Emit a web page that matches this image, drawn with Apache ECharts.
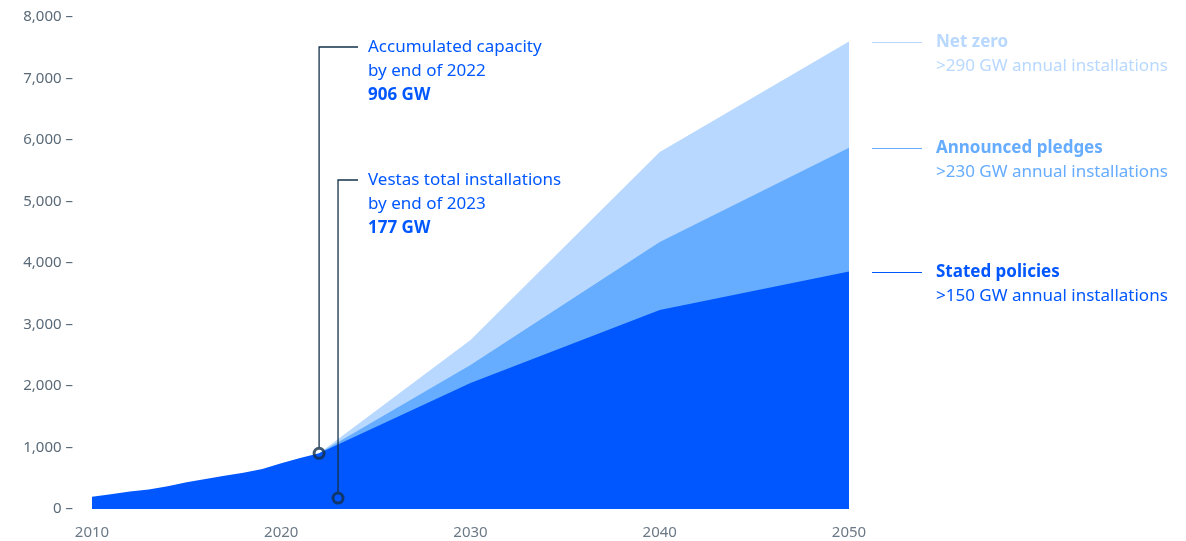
<!DOCTYPE html>
<html>
<head>
<meta charset="utf-8">
<script src="https://cdn.jsdelivr.net/npm/echarts@6/dist/echarts.min.js"></script>
<style>
  html, body { margin: 0; padding: 0; background: #ffffff; }
  #chart { width: 1186px; height: 541px; }
</style>
</head>
<body>
<div id="chart"></div>
<script>
// Accumulated wind capacity (GW): history and three IEA scenarios
const historyYears = [2010, 2011, 2012, 2013, 2014, 2015, 2016, 2017, 2018, 2019, 2020, 2021, 2022];
const historyValues = [198, 238, 283, 318, 370, 433, 487, 540, 591, 650, 743, 830, 906];
const scenarioYears = [2022, 2030, 2040, 2050];
const statedPolicies = [906, 2050, 3236, 3860];
const announcedPledges = [906, 2340, 4341, 5875];
const netZero = [906, 2748, 5805, 7600];
const yTicks = [0, 1000, 2000, 3000, 4000, 5000, 6000, 7000, 8000];
const xTicks = [2010, 2020, 2030, 2040, 2050];

const markers = [
  { year: 2022, value: 906, lines: ['Accumulated capacity', 'by end of 2022'], bold: '906 GW', textTop: 47 },
  { year: 2023, value: 177, lines: ['Vestas total installations', 'by end of 2023'], bold: '177 GW', textTop: 180 }
];
const scenarioLabels = [
  { name: 'Net zero', note: '>290 GW annual installations', values: netZero, color: '#b8d8ff' },
  { name: 'Announced pledges', note: '>230 GW annual installations', values: announcedPledges, color: '#66acff' },
  { name: 'Stated policies', note: '>150 GW annual installations', values: statedPolicies, color: '#0057ff' }
];

const FONT = 'Noto Sans';
const pairs = (xs, ys) => xs.map((x, i) => [x, ys[i]]);

// Stated policies continues the historical record as one shape
const statedData = pairs(historyYears, historyValues)
  .concat(pairs(scenarioYears, statedPolicies).filter(d => d[0] > historyYears[historyYears.length - 1]));

const chart = echarts.init(document.getElementById('chart'), null, { renderer: 'canvas' });

function areaSeries(name, data, color, z) {
  return {
    name, type: 'line', data, z,
    symbol: 'none', smooth: false,
    lineStyle: { width: 0, color },
    areaStyle: { color, opacity: 1 },
    itemStyle: { color },
    silent: true
  };
}

chart.setOption({
  animation: false,
  grid: { left: 92, right: 337, top: 17, bottom: 32, containLabel: false },
  xAxis: {
    type: 'value', min: 2010, max: 2050, interval: 10,
    axisLine: { show: false }, axisTick: { show: false }, splitLine: { show: false },
    axisLabel: {
      color: '#6b7885', fontFamily: FONT, fontSize: 15, margin: 16,
      formatter: v => xTicks.includes(v) ? String(v) : ''
    }
  },
  yAxis: {
    type: 'value', min: 0, max: 8000, interval: 1000,
    axisLine: { show: false }, axisTick: { show: false }, splitLine: { show: false },
    axisLabel: {
      color: '#5a6a78', fontFamily: FONT, fontSize: 15, margin: 19,
      formatter: v => yTicks.includes(v) ? v.toLocaleString('en-US') + ' \u2013' : ''
    }
  },
  series: [
    areaSeries('Net zero', pairs(scenarioYears, netZero), '#b8d8ff', 1),
    areaSeries('Announced pledges', pairs(scenarioYears, announcedPledges), '#66acff', 2),
    areaSeries('Stated policies', statedData, '#0057ff', 3),
    {
      type: 'scatter', z: 10, silent: true,
      data: markers.map(m => [m.year, m.value]),
      symbol: 'circle', symbolSize: 10,
      itemStyle: { color: 'rgba(0,0,0,0)', borderColor: '#13304a', borderWidth: 3 }
    }
  ]
});

// Leader lines, annotation texts and scenario labels placed from axis coordinates
const graphics = [];
const textX = 368;
markers.forEach(m => {
  const p = chart.convertToPixel({ gridIndex: 0 }, [m.year, m.value]);
  const lineY = m.textTop;
  graphics.push({
    type: 'polyline', silent: true, z: 5,
    shape: { points: [[p[0], p[1] - 6], [p[0], lineY], [textX - 10, lineY]] },
    style: { stroke: '#13304a', lineWidth: 1.3, fill: null }
  });
  m.lines.forEach((t, i) => {
    graphics.push({
      type: 'text', silent: true, z: 6,
      style: { text: t, x: textX, y: lineY + i * 24, fill: '#0057ff', font: '17px "' + FONT + '"', verticalAlign: 'middle' }
    });
  });
  graphics.push({
    type: 'text', silent: true, z: 6,
    style: { text: m.bold, x: textX, y: lineY + 48, fill: '#0057ff', font: 'bold 17px "' + FONT + '"', verticalAlign: 'middle' }
  });
});

scenarioLabels.forEach(s => {
  const p = chart.convertToPixel({ gridIndex: 0 }, [2050, s.values[s.values.length - 1]]);
  const y = Math.round(p[1]) + 0.5;
  graphics.push({
    type: 'line', silent: true,
    shape: { x1: p[0] + 23, y1: y, x2: p[0] + 73, y2: y },
    style: { stroke: s.color, lineWidth: 1 }
  });
  graphics.push({
    type: 'text', silent: true,
    style: { text: s.name, x: p[0] + 87, y: y, fill: s.color, font: 'bold 17px "' + FONT + '"', verticalAlign: 'middle' }
  });
  graphics.push({
    type: 'text', silent: true,
    style: { text: s.note, x: p[0] + 87, y: y + 24, fill: s.color, font: '17px "' + FONT + '"', verticalAlign: 'middle' }
  });
});

chart.setOption({ graphic: graphics });
</script>
</body>
</html>
